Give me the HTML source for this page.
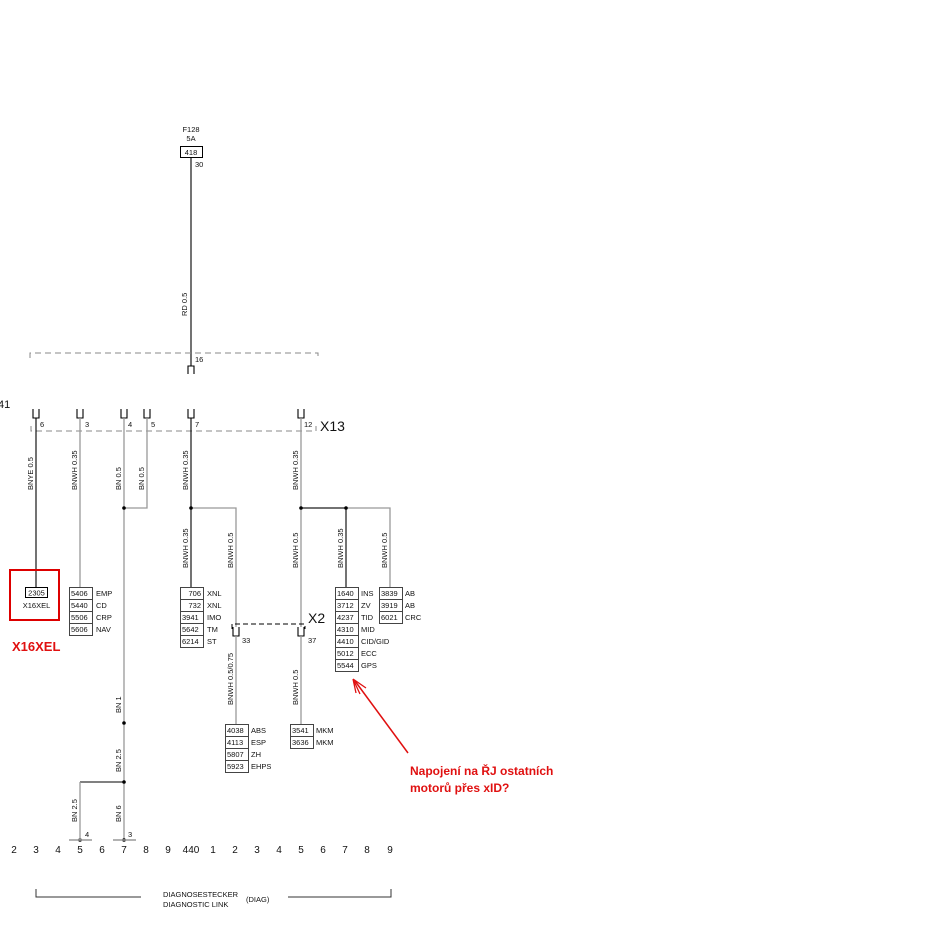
<!DOCTYPE html>
<html><head><meta charset="utf-8"><style>
html,body{margin:0;padding:0;background:#fff;width:926px;height:931px;overflow:hidden}
svg{display:block}
text{font-family:"Liberation Sans",sans-serif;fill:#111}
.s{font-size:7.5px}
.b rect{fill:#fff;stroke:#444;stroke-width:1}
.g{stroke:#999;stroke-width:1.3;fill:none}
.k{stroke:#000;stroke-width:1.1;fill:none}
.d{stroke:#888;stroke-width:1;stroke-dasharray:6,4;fill:none}
</style></head><body>
<svg width="926" height="931" viewBox="0 0 926 931" xmlns="http://www.w3.org/2000/svg">
<!-- fuse -->
<text class="s" x="191" y="132" text-anchor="middle">F128</text>
<text class="s" x="191" y="141" text-anchor="middle">5A</text>
<rect x="180.5" y="146.5" width="22" height="11" fill="#fff" stroke="#000"/>
<text class="s" x="191" y="155" text-anchor="middle">418</text>
<text class="s" x="195" y="167">30</text>
<line class="k" x1="191" y1="157" x2="191" y2="366"/>
<text class="s" transform="translate(187,316) rotate(-90)">RD  0.5</text>
<path class="d" d="M30,358 V353 H318 V358"/>
<text class="s" x="195" y="362">16</text>
<path class="k" d="M188,374 V366 H194 V374"/>

<!-- X13 -->
<text x="-2" y="408" style="font-size:11px">41</text>
<g class="k">
<path d="M33,409 V418 H39 V409"/><path d="M77,409 V418 H83 V409"/>
<path d="M121,409 V418 H127 V409"/><path d="M144,409 V418 H150 V409"/>
<path d="M188,409 V418 H194 V409"/><path d="M298,409 V418 H304 V409"/>
</g>
<path class="d" d="M31,426 V431 H316 V426"/>
<text x="320" y="431" style="font-size:14px">X13</text>
<text class="s" x="40" y="427">6</text><text class="s" x="85" y="427">3</text>
<text class="s" x="128" y="427">4</text><text class="s" x="151" y="427">5</text>
<text class="s" x="195" y="427">7</text><text class="s" x="304" y="427">12</text>

<!-- wires -->
<line class="k" x1="36" y1="418" x2="36" y2="588"/>
<line class="g" x1="80" y1="418" x2="80" y2="587"/>
<line class="g" x1="124" y1="418" x2="124" y2="840"/>
<path class="g" d="M147,418 V508 H124"/>
<line class="k" x1="191" y1="418" x2="191" y2="587"/>
<path class="g" d="M191,508 H236 V627"/>
<line class="g" x1="301" y1="418" x2="301" y2="627"/>
<path class="g" d="M301,508 H390 V587"/>
<line class="k" x1="301" y1="508" x2="346" y2="508"/>
<line class="k" x1="346" y1="508" x2="346" y2="587"/>
<g fill="#000"><circle cx="124" cy="508" r="1.8"/><circle cx="191" cy="508" r="1.8"/><circle cx="301" cy="508" r="1.8"/><circle cx="346" cy="508" r="1.8"/>
<circle cx="124" cy="723" r="1.8"/><circle cx="124" cy="782" r="1.8"/><circle cx="124" cy="840" r="1.8"/><circle cx="80" cy="840" r="1.8"/></g>

<g class="s">
<text transform="translate(33,490) rotate(-90)">BNYE  0.5</text>
<text transform="translate(77,490) rotate(-90)">BNWH  0.35</text>
<text transform="translate(121,490) rotate(-90)">BN  0.5</text>
<text transform="translate(144,490) rotate(-90)">BN  0.5</text>
<text transform="translate(188,490) rotate(-90)">BNWH  0.35</text>
<text transform="translate(298,490) rotate(-90)">BNWH  0.35</text>
<text transform="translate(188,568) rotate(-90)">BNWH  0.35</text>
<text transform="translate(233,568) rotate(-90)">BNWH  0.5</text>
<text transform="translate(298,568) rotate(-90)">BNWH  0.5</text>
<text transform="translate(343,568) rotate(-90)">BNWH  0.35</text>
<text transform="translate(387,568) rotate(-90)">BNWH  0.5</text>
<text transform="translate(233,705) rotate(-90)">BNWH  0.5/0.75</text>
<text transform="translate(298,705) rotate(-90)">BNWH  0.5</text>
<text transform="translate(121,713) rotate(-90)">BN  1</text>
<text transform="translate(121,772) rotate(-90)">BN  2.5</text>
<text transform="translate(77,822) rotate(-90)">BN  2.5</text>
<text transform="translate(121,822) rotate(-90)">BN  6</text>
</g>

<!-- red box -->
<rect x="10" y="570" width="49" height="50" fill="none" stroke="#d00" stroke-width="2"/>
<rect x="25.5" y="587.5" width="22" height="10" fill="#fff" stroke="#000"/>
<text class="s" x="36.5" y="595.5" text-anchor="middle">2305</text>
<text class="s" x="36.5" y="608" text-anchor="middle">X16XEL</text>
<text x="12" y="651" style="font-size:13px;font-weight:bold;fill:#e01010">X16XEL</text>

<!-- box groups -->
<g class="b">
<rect x="69.5" y="587.5" width="23" height="12"/><rect x="69.5" y="599.5" width="23" height="12"/><rect x="69.5" y="611.5" width="23" height="12"/><rect x="69.5" y="623.5" width="23" height="12"/>
<rect x="180.5" y="587.5" width="23" height="12"/><rect x="180.5" y="599.5" width="23" height="12"/><rect x="180.5" y="611.5" width="23" height="12"/><rect x="180.5" y="623.5" width="23" height="12"/><rect x="180.5" y="635.5" width="23" height="12"/>
<rect x="335.5" y="587.5" width="23" height="12"/><rect x="335.5" y="599.5" width="23" height="12"/><rect x="335.5" y="611.5" width="23" height="12"/><rect x="335.5" y="623.5" width="23" height="12"/><rect x="335.5" y="635.5" width="23" height="12"/><rect x="335.5" y="647.5" width="23" height="12"/><rect x="335.5" y="659.5" width="23" height="12"/>
<rect x="379.5" y="587.5" width="23" height="12"/><rect x="379.5" y="599.5" width="23" height="12"/><rect x="379.5" y="611.5" width="23" height="12"/>
<rect x="225.5" y="724.5" width="23" height="12"/><rect x="225.5" y="736.5" width="23" height="12"/><rect x="225.5" y="748.5" width="23" height="12"/><rect x="225.5" y="760.5" width="23" height="12"/>
<rect x="290.5" y="724.5" width="23" height="12"/><rect x="290.5" y="736.5" width="23" height="12"/>
</g>
<g class="s">
<text x="71" y="596">5406</text><text x="96" y="596">EMP</text>
<text x="71" y="608">5440</text><text x="96" y="608">CD</text>
<text x="71" y="620">5506</text><text x="96" y="620">CRP</text>
<text x="71" y="632">5606</text><text x="96" y="632">NAV</text>

<text x="201" y="596" text-anchor="end">706</text><text x="207" y="596">XNL</text>
<text x="201" y="608" text-anchor="end">732</text><text x="207" y="608">XNL</text>
<text x="182" y="620">3941</text><text x="207" y="620">IMO</text>
<text x="182" y="632">5642</text><text x="207" y="632">TM</text>
<text x="182" y="644">6214</text><text x="207" y="644">ST</text>

<text x="337" y="596">1640</text><text x="361" y="596">INS</text>
<text x="337" y="608">3712</text><text x="361" y="608">ZV</text>
<text x="337" y="620">4237</text><text x="361" y="620">TID</text>
<text x="337" y="632">4310</text><text x="361" y="632">MID</text>
<text x="337" y="644">4410</text><text x="361" y="644">CID/GID</text>
<text x="337" y="656">5012</text><text x="361" y="656">ECC</text>
<text x="337" y="668">5544</text><text x="361" y="668">GPS</text>

<text x="381" y="596">3839</text><text x="405" y="596">AB</text>
<text x="381" y="608">3919</text><text x="405" y="608">AB</text>
<text x="381" y="620">6021</text><text x="405" y="620">CRC</text>

<text x="227" y="733">4038</text><text x="251" y="733">ABS</text>
<text x="227" y="745">4113</text><text x="251" y="745">ESP</text>
<text x="227" y="757">5807</text><text x="251" y="757">ZH</text>
<text x="227" y="769">5923</text><text x="251" y="769">EHPS</text>

<text x="292" y="733">3541</text><text x="316" y="733">MKM</text>
<text x="292" y="745">3636</text><text x="316" y="745">MKM</text>
</g>

<!-- X2 -->
<path d="M232,629 V624 H305 V629" fill="none" stroke="#000" stroke-dasharray="5,3"/>
<path class="k" d="M233,627 V636 H239 V627"/><path class="k" d="M298,627 V636 H304 V627"/>
<text x="308" y="623" style="font-size:14px">X2</text>
<text class="s" x="242" y="643">33</text><text class="s" x="308" y="643">37</text>
<line class="g" x1="236" y1="636" x2="236" y2="724"/>
<line class="g" x1="301" y1="636" x2="301" y2="724"/>

<!-- ground part -->
<path class="k" d="M124,782 H80"/>
<line class="g" x1="80" y1="782" x2="80" y2="840"/>
<line stroke="#999" stroke-width="1.5" x1="69" y1="840" x2="92" y2="840"/>
<line stroke="#999" stroke-width="1.5" x1="113" y1="840" x2="136" y2="840"/>
<text class="s" x="85" y="837">4</text><text class="s" x="128" y="837">3</text>

<g style="font-size:10px" text-anchor="middle">
<text x="14" y="853">2</text><text x="36" y="853">3</text><text x="58" y="853">4</text><text x="80" y="853">5</text><text x="102" y="853">6</text><text x="124" y="853">7</text><text x="146" y="853">8</text><text x="168" y="853">9</text><text x="191" y="853">440</text><text x="213" y="853">1</text><text x="235" y="853">2</text><text x="257" y="853">3</text><text x="279" y="853">4</text><text x="301" y="853">5</text><text x="323" y="853">6</text><text x="345" y="853">7</text><text x="367" y="853">8</text><text x="390" y="853">9</text>
</g>

<path d="M36,889 V897 H141 M288,897 H391 V889" fill="none" stroke="#333"/>
<text class="s" x="163" y="897">DIAGNOSESTECKER</text>
<text class="s" x="163" y="907">DIAGNOSTIC LINK</text>
<text class="s" x="246" y="902">(DIAG)</text>

<!-- annotation -->
<line x1="408" y1="753" x2="355" y2="681" stroke="#e01010" stroke-width="1.5"/>
<path d="M353,679 L356,693 M353,679 L366,688 M353,679 L360,694" stroke="#e01010" stroke-width="1.3" fill="none"/>
<text x="410" y="775" style="font-size:12px;font-weight:bold;fill:#e01010">Napojení na ŘJ ostatních</text>
<text x="410" y="792" style="font-size:12px;font-weight:bold;fill:#e01010">motorů přes xID?</text>
</svg>
</body></html>
